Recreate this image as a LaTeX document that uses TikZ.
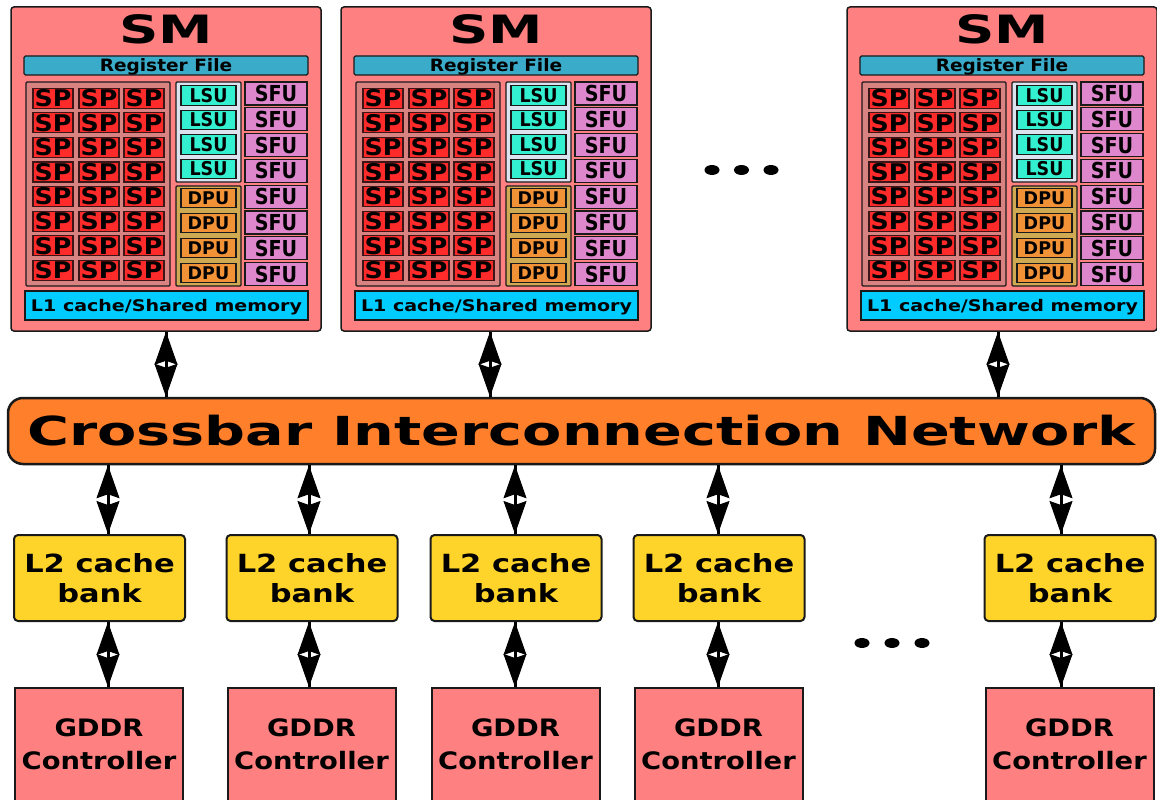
\documentclass[tikz,border=0pt]{standalone}
\usepackage{fontspec}
\setmainfont{DejaVu Sans}
\usepackage{graphicx}
\usetikzlibrary{arrows.meta,shapes.geometric}
\definecolor{edge}{HTML}{1A1A1A}
\definecolor{smfill}{HTML}{FF8080}
\definecolor{regfill}{HTML}{3AABC8}
\definecolor{spgfill}{HTML}{D88282}
\definecolor{spfill}{HTML}{FF2A2A}
\definecolor{lsugfill}{HTML}{DCE3EF}
\definecolor{lsufill}{HTML}{33F0D0}
\definecolor{dpugfill}{HTML}{CFAA52}
\definecolor{dpufill}{HTML}{F29237}
\definecolor{sfufill}{HTML}{DE87CD}
\definecolor{lonefill}{HTML}{00CCFF}
\definecolor{xbarfill}{HTML}{FF7F2A}
\definecolor{ltwofill}{HTML}{FFD42A}
\definecolor{gddrfill}{HTML}{FF8080}
\newcommand\mytxt[3]{{\fontsize{#1}{#1}\selectfont\scalebox{#2}[1]{#3}}}
\tikzset{
  base/.style={inner sep=0pt, font=\bfseries, text=black},
  smbox/.style={base, draw=edge, fill=smfill, line width=1.5pt, rounded corners=3pt, minimum width=310pt, minimum height=324pt},
  txt/.style={base},
  regbox/.style={base, draw=edge, fill=regfill, line width=1.2pt, rounded corners=1.5pt, minimum width=284pt, minimum height=19pt, text depth=0pt},
  spgrp/.style={base, draw=edge, fill=spgfill, line width=1.2pt, rounded corners=1pt, minimum width=144pt, minimum height=204pt},
  spcell/.style={base, draw=edge!85!red, fill=spfill, line width=1.1pt, minimum width=40pt, minimum height=20pt},
  lsugrp/.style={base, draw=edge, fill=lsugfill, line width=1.2pt, rounded corners=1pt, minimum width=65pt, minimum height=100pt},
  lsucell/.style={base, draw=edge, fill=lsufill, line width=1.1pt, minimum width=55pt, minimum height=19.5pt},
  dpugrp/.style={base, draw=edge, fill=dpugfill, line width=1.2pt, rounded corners=1pt, minimum width=65pt, minimum height=100pt},
  dpucell/.style={base, draw=edge, fill=dpufill, line width=1.1pt, minimum width=55pt, minimum height=19.5pt},
  sfucell/.style={base, draw=edge, fill=sfufill, line width=1.1pt, minimum width=62pt, minimum height=23pt},
  lonebox/.style={base, draw=edge, fill=lonefill, line width=1.2pt, minimum width=283pt, minimum height=29pt, text depth=0pt},
  xbar/.style={base, draw=edge, fill=xbarfill, line width=2.5pt, rounded corners=15pt, minimum width=1147pt, minimum height=66pt},
  ltwo/.style={base, draw=edge, fill=ltwofill, line width=2pt, rounded corners=4pt, minimum width=171pt, minimum height=86pt, align=center, font=\bfseries\fontsize{25}{30}\selectfont},
  gddr/.style={base, draw=edge, fill=gddrfill, line width=2pt, minimum width=168pt, minimum height=113pt, align=center, font=\bfseries\fontsize{24}{33}\selectfont},
  shaft/.style={draw=black, line width=3pt},
  heads/.style={draw=black, line width=1pt, {Stealth[length=33pt,width=23pt,inset=4pt]}-{Stealth[length=33pt,width=23pt,inset=4pt]}},
  dot/.style={fill=black, draw=none, ellipse, minimum width=15pt, minimum height=10pt, inner sep=0pt},
}
\newcommand\smunit[2]{%
\begin{scope}[xshift=#2pt]
  \node[smbox] (#1) at (166,169) {};
  \node[txt] (#1-title) at (166,29) {\mytxt{39}{1.4}{SM}};
  \node[regbox] (#1-reg) at (166,65.5) {\mytxt{17}{1.09}{Register File}};
  \node[spgrp] (#1-spg) at (98,184) {};
  \foreach \r in {0,...,7}{
    \foreach \c/\cx in {0/53,1/99,2/144}{
      \node[spcell] (#1-sp\r\c) at ({\cx},{98.3+24.57*\r}) {\mytxt{23}{1.1}{SP}};
    }
  }
  \node[lsugrp] (#1-lsug) at (208.5,132) {};
  \foreach \r in {0,...,3}{
    \node[lsucell] (#1-lsu\r) at (208.5,{95.4+24.55*\r}) {\mytxt{19}{0.92}{LSU}};
  }
  \node[dpugrp] (#1-dpug) at (208.5,236) {};
  \foreach \r in {0,...,3}{
    \node[dpucell] (#1-dpu\r) at (208.5,{198+25*\r}) {\mytxt{17.5}{1.0}{DPU}};
  }
  \foreach \r in {0,...,7}{
    \node[sfucell] (#1-sfu\r) at (276,{93.5+25.8*\r}) {\mytxt{22}{0.87}{SFU}};
  }
  \node[lonebox] (#1-l1) at (166.5,305.5) {\mytxt{16}{1.19}{L1 cache/Shared memory}};
\end{scope}}
\begin{document}
\begin{tikzpicture}[x=1pt,y=-1pt]
\useasboundingbox (0,0) rectangle (1157,800);
\smunit{sma}{0}
\smunit{smb}{330}
\smunit{smc}{836}
\node[dot] (dta) at (712,170) {};
\node[dot] (dtb) at (741.5,170) {};
\node[dot] (dtc) at (771,170) {};
\node[xbar] (xb) at (581.5,431) {\mytxt{40}{1.43}{Crossbar Interconnection Network}};
% L2 banks
\node[ltwo] (la) at (99.5,578) {\scalebox{1.22}[1]{L2 cache}\\\scalebox{1.22}[1]{bank}};
\node[ltwo] (lb) at (312,578) {\scalebox{1.22}[1]{L2 cache}\\\scalebox{1.22}[1]{bank}};
\node[ltwo] (lc) at (516,578) {\scalebox{1.22}[1]{L2 cache}\\\scalebox{1.22}[1]{bank}};
\node[ltwo] (ld) at (719,578) {\scalebox{1.22}[1]{L2 cache}\\\scalebox{1.22}[1]{bank}};
\node[ltwo] (le) at (1070,578) {\scalebox{1.22}[1]{L2 cache}\\\scalebox{1.22}[1]{bank}};
% GDDR controllers
\node[gddr] (ga) at (99,744.5) {\scalebox{1.14}[1]{GDDR}\\\scalebox{1.14}[1]{Controller}};
\node[gddr] (gb) at (311.5,744.5) {\scalebox{1.14}[1]{GDDR}\\\scalebox{1.14}[1]{Controller}};
\node[gddr] (gc) at (515.5,744.5) {\scalebox{1.14}[1]{GDDR}\\\scalebox{1.14}[1]{Controller}};
\node[gddr] (gd) at (718.5,744.5) {\scalebox{1.14}[1]{GDDR}\\\scalebox{1.14}[1]{Controller}};
\node[gddr] (ge) at (1069.5,744.5) {\scalebox{1.14}[1]{GDDR}\\\scalebox{1.14}[1]{Controller}};
\node[dot] (dtd) at (862,643) {};
\node[dot] (dte) at (892,643) {};
\node[dot] (dtf) at (922,643) {};
% connectors SM <-> crossbar
\foreach \s/\xx in {sma/166,smb/490,smc/998}{
  \coordinate (\s-top) at (\xx,0 |- \s.south);
  \coordinate (\s-bot) at (\xx,0 |- xb.north);
  \draw[shaft] (\s-top) -- (\s-bot);
  \draw[heads] (\s-top) -- (\s-bot);
}
% connectors crossbar <-> L2 <-> GDDR
\foreach \l/\g/\xx in {la/ga/108,lb/gb/309,lc/gc/515,ld/gd/718,le/ge/1061}{
  \coordinate (\l-xt) at (\xx,0 |- xb.south);
  \coordinate (\l-lt) at (\xx,0 |- \l.north);
  \coordinate (\l-lb) at (\xx,0 |- \l.south);
  \coordinate (\l-gt) at (\xx,0 |- \g.north);
  \draw[shaft] (\l-xt) -- (\l-lt);
  \draw[heads] (\l-xt) -- (\l-lt);
  \draw[shaft] (\l-lb) -- (\l-gt);
  \draw[heads] (\l-lb) -- (\l-gt);
}
\end{tikzpicture}
\end{document}
